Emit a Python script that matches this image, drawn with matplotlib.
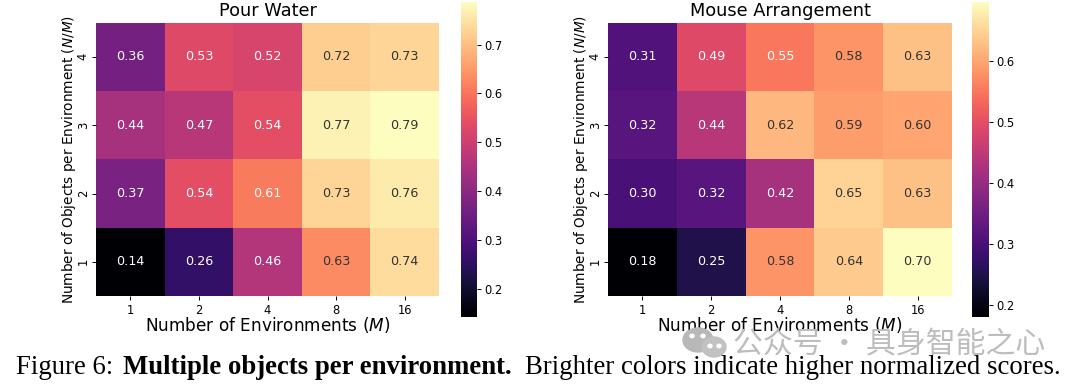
import numpy as np
import matplotlib
matplotlib.use('Agg')
import matplotlib.pyplot as plt
from matplotlib.patches import Ellipse
import seaborn as sns

# values, rows go top to bottom
envs = ['1', '2', '4', '8', '16']
objs = ['4', '3', '2', '1']
pour_water = [[0.36, 0.53, 0.52, 0.72, 0.73],
              [0.44, 0.47, 0.54, 0.77, 0.79],
              [0.37, 0.54, 0.61, 0.73, 0.76],
              [0.14, 0.26, 0.46, 0.63, 0.74]]
mouse_arr = [[0.31, 0.49, 0.55, 0.58, 0.63],
             [0.32, 0.44, 0.62, 0.59, 0.60],
             [0.30, 0.32, 0.42, 0.65, 0.63],
             [0.18, 0.25, 0.58, 0.64, 0.70]]
titles = ['Pour Water', 'Mouse Arrangement']
color_lims = [(0.143, 0.787), (0.18, 0.697)]
dark_from = [0.62, 0.57]  # annotations turn dark from this value up
xlabel = r'Number of Environments ($M$)'
ylabel = r'Number of Objects per Environment ($N/M$)'
W, H = 1080.0, 388.0


def px_axes(fig, x0, x1, y0, y1):
    # pixel box from the reference, y measured from the top
    return fig.add_axes([x0/W, 1 - y1/H, (x1 - x0)/W, (y1 - y0)/H])


def px_ellipse(fig, x, y, w, h, color, z):
    fig.add_artist(Ellipse((x/W, 1 - y/H), w/W, h/H, transform=fig.transFigure, color=color, zorder=z))


fig = plt.figure(figsize=(W/100, H/100), dpi=100)

# Heatmaps
boxes = [(96, 439, 22.7, 296, 460.5, 476.7), (608, 952, 22.7, 296, 972.3, 988.5)]
for data, title, lims, cut, b in zip([pour_water, mouse_arr], titles, color_lims, dark_from, boxes):
    ax = px_axes(fig, b[0], b[1], b[2], b[3])
    cax = px_axes(fig, b[4], b[5], 2, 316.7)
    sns.heatmap(np.array(data), annot=True, fmt='.2f', cmap='magma', ax=ax, cbar_ax=cax,
                vmin=lims[0], vmax=lims[1], xticklabels=envs, yticklabels=objs,
                annot_kws={'fontsize': 9.2})
    for txt, val in zip(ax.texts, np.array(data).ravel()):
        txt.set_color('#333333' if val >= cut else 'white')
    ax.set_title(title, fontsize=12.8, pad=4.5)
    ax.set_xlabel(xlabel, fontsize=12.2, labelpad=-1)
    ax.set_ylabel(ylabel, fontsize=9.8, labelpad=-1)
    ax.tick_params(labelsize=8.3, length=3, width=0.7, pad=2.5)
    ax.tick_params(axis='y', pad=1.5)
    cax.tick_params(labelsize=8.3, length=3, width=0.7, pad=2.5)

# Watermark
px_ellipse(fig, 698, 340, 30, 24, '#b8b8b8', 5)
px_ellipse(fig, 714, 347, 24, 20, '#c2c2c2', 6)
for ex, ey in [(692, 336), (703, 336), (710, 346), (719, 346)]:
    px_ellipse(fig, ex, ey, 4, 3.5, 'white', 6)
fig.text(733/W, 1 - 345/H, '公众号 · 具身智能之心', fontsize=21.5, color='#bdbdbd',
         family=['Noto Sans CJK SC', 'DejaVu Sans'], va='center', ha='left', zorder=5)

# Caption
serif = 'Liberation Serif'
fig.text(16/W, 1 - 368/H, 'Figure 6:', fontsize=19.3, family=serif, va='center', ha='left', zorder=7)
fig.text(123/W, 1 - 368/H, 'Multiple objects per environment.', fontsize=19.3, family=serif,
         weight='bold', va='center', ha='left', zorder=7)
fig.text(525/W, 1 - 368/H, 'Brighter colors indicate higher normalized scores.', fontsize=19.3,
         family=serif, va='center', ha='left', zorder=7)

fig.savefig('out.png', dpi=100)
